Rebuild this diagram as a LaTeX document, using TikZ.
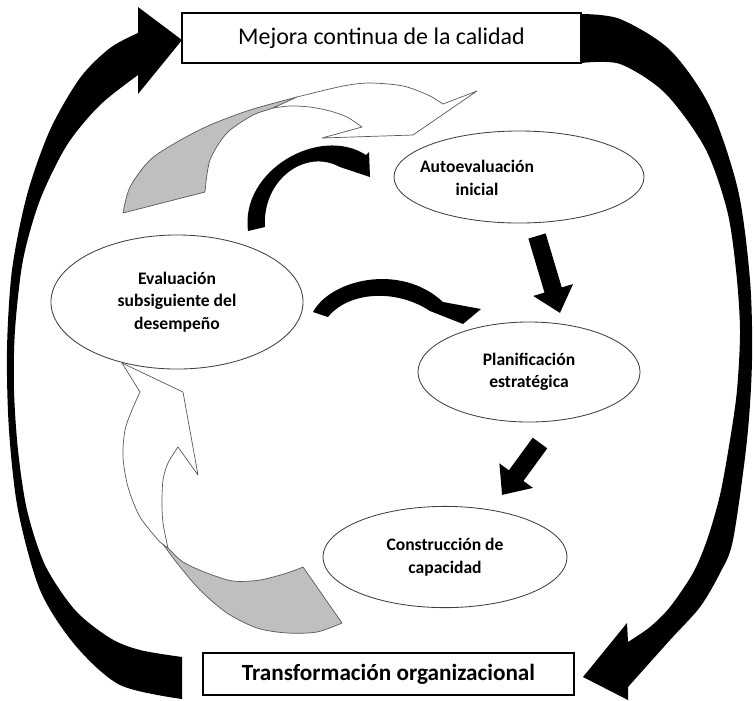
\documentclass[tikz,border=0pt]{standalone}
\usepackage{fontspec}
\setmainfont{Carlito}
\usetikzlibrary{arrows.meta,shapes.geometric}

\tikzset{
    elipse/.style={ellipse, draw=black!75, line width=0.6pt, fill=white, inner sep=0pt,
        align=center, font=\bfseries\fontsize{12.5}{16}\selectfont},
    caja/.style={rectangle, draw=black, line width=1.4pt, fill=white, inner sep=0pt},
    cinta/.style={draw=black!65, line width=0.5pt, line join=round},
    recta/.style={line width=0.45cm, -{Triangle[length=0.6cm,width=1cm]}},
}

\begin{document}
\begin{tikzpicture}[x=0.025cm,y=-0.025cm]
    \useasboundingbox (0,0) rectangle (754,700);

    % BIG ARROW ON LEFT
    \fill plot[smooth] coordinates {(182,657) (140,650) (110,638) (75,610) (45,565) (27,510) (18,450)
        (14,390) (15,330) (23,260) (40,200) (67,145) (100,105) (138,75)}
        -- (138,94) -- (182,40) -- (138,7) --
        plot[smooth] coordinates {(138,33) (110,48) (80,78) (50,130) (27,195) (12,270) (7,350)
        (9,430) (18,510) (40,590) (75,645) (120,685) (182,699)} -- cycle;

    % BIG ARROW ON RIGHT
    \fill plot[smooth] coordinates {(581,14) (620,19) (670,50) (710,107) (738,190) (750,280)
        (752,360) (747,440) (733,540) (720,573) (700,607) (670,640) (628,687)}
        -- (628,700) -- (583,677) -- (627,623) --
        plot[smooth] coordinates {(628,642) (650,627) (670,607) (693,573) (707,540) (720,495)
        (730,440) (737,390) (740,330) (736,270) (727,210) (705,148) (665,93) (620,64) (581,63)} -- cycle;

    % RIBBON ON TOP
    \filldraw[cinta, fill=black!25] plot[smooth] coordinates {(123,213) (130,187) (150,160) (177,142)
        (210,125) (250,110) (297,97)}
        -- plot[smooth] coordinates {(297,97) (273,108) (253,115) (227,133) (210,160) (205,192)} -- cycle;
    \filldraw[cinta, fill=white] (273,108) -- plot[smooth] coordinates {(297,97) (343,86) (370,83)
        (403,86) (428,95) (443,104)}
        -- (477,91) -- (413,135) -- (322,138) --
        plot[smooth] coordinates {(362,127) (347,117) (330,111) (310,107) (290,106) (273,108)} -- cycle;

    % RIBBON ON BOTTOM
    \filldraw[cinta, fill=black!25] plot[smooth] coordinates {(160,540) (177,563) (200,590) (227,613)
        (257,628) (287,633) (317,632) (342,623)}
        -- (303,567) --
        plot[smooth] coordinates {(303,567) (287,573) (260,580) (233,581) (207,573) (183,562) (168,548)} -- cycle;
    \filldraw[cinta, fill=white] plot[smooth] coordinates {(160,542) (140,517) (128,487) (123,457)
        (125,430) (132,410) (140,392)}
        -- (122,363) -- (183,392) -- (198,475) --
        plot[smooth] coordinates {(178,447) (168,463) (163,480) (162,503) (163,523) (168,548)} -- cycle;

    % BOXES AND ELLIPSES
    \node[caja, minimum width=9.975cm, minimum height=1.25cm, font=\fontsize{17}{20}\selectfont]
        (mejora) at (381.5,38) {Mejora continua de la calidad};
    \node[caja, minimum width=9.275cm, minimum height=1.05cm, font=\bfseries\fontsize{16.5}{19}\selectfont]
        (transf) at (388.5,674) {Transformación organizacional};

    \node[elipse, minimum width=6.25cm, minimum height=2.3cm] (autoev) at (519,177) {};
    \node[align=center, font=\bfseries\fontsize{12.5}{16}\selectfont] (autoevtxt) at (477,178)
        {Autoevaluación\\inicial};
    \node[elipse, minimum width=6.3cm, minimum height=3.35cm] (evalua) at (177,302)
        {Evaluación\\subsiguiente del\\desempeño};
    \node[elipse, minimum width=5.55cm, minimum height=2.5cm] (planif) at (529,372)
        {Planificación\\estratégica};
    \node[elipse, minimum width=6.1cm, minimum height=2.53cm] (constr) at (445,557)
        {Construcción de\\capacidad};

    % SMALL BLACK ARROWS
    \fill (248,231) .. controls (240,170) and (320,125) .. (366,155)
        -- (369,152) -- (370,177) -- (340,167)
        .. controls (305,148) and (262,180) .. (265,227) -- cycle;
    \fill (313,312) .. controls (330,280) and (400,262) .. (443,302)
        -- (481,309) -- (463,324) -- (430,311)
        .. controls (395,288) and (348,292) .. (328,317) -- cycle;

    \coordinate (s1a) at (537,236);
    \coordinate (s1b) at (560,313);
    \coordinate (s2a) at (540,443);
    \coordinate (s2b) at (502,495);
    \draw[recta] (s1a) -- (s1b);
    \draw[recta] (s2a) -- (s2b);
\end{tikzpicture}
\end{document}
